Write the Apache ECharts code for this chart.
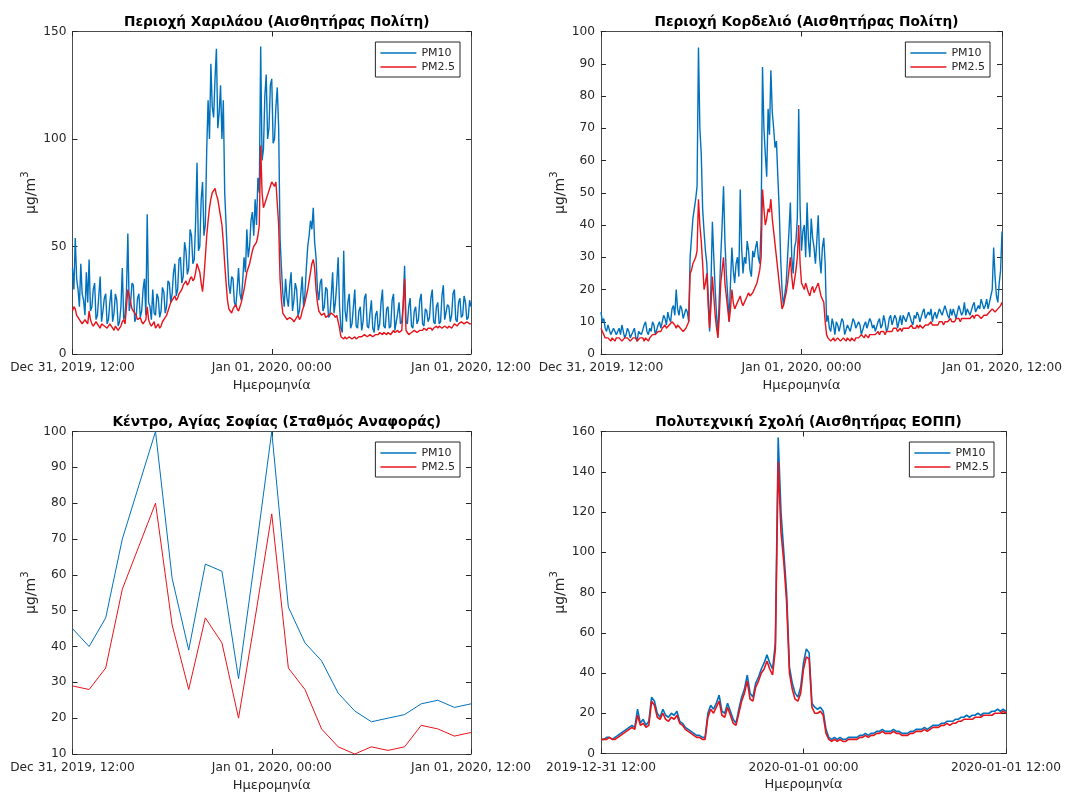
<!DOCTYPE html>
<html>
<head>
<meta charset="utf-8">
<script src="https://cdn.jsdelivr.net/npm/echarts@6/dist/echarts.min.js"></script>
<style>
html,body{margin:0;padding:0;background:#fff;}
#chart{width:1065px;height:793px;}
</style>
</head>
<body>
<div id="chart"></div>
<script>
// ---------- tick labels / titles ----------
const xTickLabels = ['Dec 31, 2019, 12:00', 'Jan 01, 2020, 00:00', 'Jan 01, 2020, 12:00'];
const xTickLabelsISO = ['2019-12-31 12:00', '2020-01-01 00:00', '2020-01-01 12:00'];
const panelTitles = [
  'Περιοχή Χαριλάου (Αισθητήρας Πολίτη)',
  'Περιοχή Κορδελιό (Αισθητήρας Πολίτη)',
  'Κέντρο, Αγίας Σοφίας (Σταθμός Αναφοράς)',
  'Πολυτεχνική Σχολή (Αισθητήρας ΕΟΠΠ)'
];
const seriesNames = ['PM10', 'PM2.5'];
const xAxisName = 'Ημερομηνία';
const yAxisName = '{a|μg/m}{s|3}';

// ---------- data (hours after Dec 31, 2019 12:00) ----------
const stepFiveMin = 1 / 12;  // hours
const stepTenMin = 1 / 6;    // hours
const stepHour = 1;          // hours

// Περιοχή Χαριλάου, 5-minute samples
const p1pm10 = [
  40,30,54,35,30,22,42,28,25,18,38,24,
  44,20,22,30,33,16,18,27,36,15,20,26,
  28,14,16,24,30,15,19,28,25,13,15,22,
  40,16,18,29,56,20,24,33,32,15,17,26,
  28,17,20,30,35,18,65,24,22,16,30,19,
  18,28,26,17,20,31,29,19,22,34,33,24,
  28,38,42,27,30,44,45,33,36,52,48,37,
  40,58,55,42,44,62,89,48,50,72,80,55,
  60,95,118,100,135,115,110,128,142,105,112,125,
  100,118,75,60,45,32,28,36,35,24,22,30,
  40,28,25,34,45,38,58,45,50,62,66,55,
  72,60,82,75,143,90,95,120,130,100,105,125,
  128,98,100,115,124,105,54,40,28,22,35,26,
  22,32,38,20,25,33,30,18,20,28,36,22,
  28,40,50,55,62,58,68,52,45,30,25,33,
  35,20,22,31,30,17,18,27,38,19,24,33,
  45,22,12,10,48,20,15,24,28,12,14,22,
  30,13,12,20,22,11,15,26,28,13,12,19,
  25,12,10,18,20,11,14,24,30,13,12,21,
  22,12,13,25,28,11,11,19,24,14,15,23,
  41,15,14,22,26,13,12,20,22,14,16,25,
  28,14,13,21,20,15,17,26,30,15,14,22,
  24,14,15,27,32,16,16,23,22,15,18,28,
  30,16,15,24,26,17,18,27,24,16,17,25,
  22
];
const p1pm25 = [
  20,22,21,18,17,16,15,14,14,16,15,14,
  20,16,14,13,13,15,15,13,12,14,14,13,
  13,12,12,14,14,12,11,13,13,11,12,13,
  15,16,14,22,30,27,24,21,20,19,18,16,
  16,17,15,14,14,16,22,16,14,13,13,15,
  12,13,14,12,13,15,15,17,18,20,22,24,
  25,26,27,25,26,28,28,30,32,33,34,32,
  33,35,36,34,35,38,42,40,38,33,29,36,
  45,55,62,68,72,75,76,77,74,72,68,64,
  60,52,42,33,25,21,20,19,21,22,23,21,
  20,22,24,27,30,34,38,40,42,45,48,50,
  50,52,55,60,97,75,68,70,72,74,76,78,
  80,79,78,80,80,60,35,25,19,18,17,16,
  16,17,17,16,15,16,17,18,16,17,20,22,
  24,27,30,34,38,42,44,40,30,24,20,19,
  18,18,19,17,17,18,18,19,19,18,17,18,
  18,12,8,8,7,8,7,7,8,8,7,7,
  8,7,7,8,8,8,8,9,9,8,8,9,
  9,8,8,9,9,9,10,10,9,10,10,9,
  10,10,9,10,11,10,10,11,10,10,11,11,
  35,11,10,9,9,10,10,11,11,10,10,11,
  11,11,12,12,11,12,12,12,11,12,12,13,
  12,13,13,12,12,13,13,12,13,13,12,13,
  14,14,13,14,14,15,15,14,14,15,15,14,
  14
];

// Περιοχή Κορδελιό, 5-minute samples
const p2pm10 = [
  13,10,11,8,7,9,9,6,6,8,8,6,
  7,8,6,9,9,5,6,8,7,5,5,7,
  8,5,4,7,7,6,6,9,10,7,6,8,
  7,10,9,6,6,9,10,8,8,12,11,9,
  13,11,10,14,15,12,20,14,12,15,14,11,
  11,14,13,10,30,36,42,45,48,52,95,70,
  62,45,38,32,28,18,7,22,41,30,20,12,
  6,18,30,40,52,35,25,18,10,22,33,26,
  22,28,30,24,51,33,25,30,28,35,32,26,
  24,32,30,33,35,30,28,40,89,70,62,55,
  76,68,88,75,70,64,66,55,45,30,20,15,
  15,22,30,38,47,30,25,33,35,42,76,45,
  32,38,40,30,47,35,30,42,36,33,28,35,
  43,30,25,33,36,28,10,12,8,7,11,9,
  6,10,9,7,7,11,10,6,6,9,8,7,
  7,11,10,8,8,10,9,6,6,9,10,8,
  8,11,10,8,9,7,7,10,11,8,9,12,
  10,7,8,11,12,9,9,12,11,8,10,12,
  9,12,12,10,10,13,13,10,9,12,11,13,
  12,10,10,13,14,11,11,13,12,14,10,12,
  13,11,11,14,14,12,12,15,15,12,11,14,
  12,14,14,11,11,15,15,12,13,16,12,14,
  14,12,12,15,16,13,13,15,14,17,17,14,
  15,17,14,16,16,20,33,24,18,16,22,26,
  38
];
const p2pm25 = [
  8,7,6,5,5,5,5,4,5,5,4,5,
  5,5,5,4,4,5,5,5,5,4,4,5,
  5,5,4,4,5,5,5,4,5,5,4,5,
  5,6,6,6,6,7,7,7,8,8,9,8,
  8,9,9,10,10,9,8,9,9,8,8,7,
  7,8,8,10,25,26,28,29,30,32,48,40,
  35,28,20,22,25,15,8,15,24,18,12,8,
  5,12,22,26,30,22,18,14,10,14,20,16,
  14,15,16,17,18,16,15,16,17,18,19,18,
  18,19,20,21,22,24,26,30,51,45,40,42,
  45,44,48,42,38,34,30,26,22,18,14,15,
  17,19,22,26,30,24,20,23,26,30,40,28,
  22,21,20,22,22,19,18,20,21,19,20,21,
  22,20,18,17,16,10,6,5,5,4,4,5,
  4,4,5,5,4,4,5,5,4,5,5,4,
  5,5,4,5,5,5,5,6,6,5,6,6,
  5,6,6,6,6,6,6,7,6,7,7,7,
  6,7,7,7,7,7,8,8,8,7,7,8,
  7,8,8,8,8,8,8,9,8,8,8,9,
  8,9,9,8,8,9,9,9,9,10,9,9,
  9,9,9,10,10,10,9,10,10,10,10,11,
  10,10,10,11,11,11,10,11,11,11,11,11,
  11,11,11,12,11,12,12,12,12,11,11,12,
  12,12,12,13,13,14,14,13,13,14,14,15,
  16
];

// Κέντρο, Αγίας Σοφίας, hourly samples
const p3pm10 = [45,40,48,70,85,100,59,39,63,61,31,65,100,51,41,36,27,22,19,20,21,24,25,23,24];
const p3pm25 = [29,28,34,56,68,80,46,28,48,41,20,48,77,34,28,17,12,10,12,11,12,18,17,15,16];

// Πολυτεχνική Σχολή, 10-minute samples
const p4pm10 = [
  7,7,8,8,7,8, 9,10,11,12,13,14, 13,22,15,17,14,16, 28,26,20,18,22,19,
  18,20,19,21,16,15, 13,12,11,10,9,9, 8,8,20,24,22,25, 29,21,20,25,21,17,
  15,22,28,32,39,30, 28,35,38,42,45,49, 45,42,55,157,120,100, 80,43,35,30,28,33,
  45,52,50,25,23,22, 23,21,12,8,7,8, 7,8,7,7,8,8, 8,8,9,9,10,9,
  10,10,11,11,12,11, 11,11,12,11,11,10, 10,10,11,11,12,12, 12,13,12,13,14,14,
  14,15,15,16,16,16, 17,17,18,18,19,18, 19,19,20,19,20,20, 20,21,21,22,21,22, 21
];
const p4pm25 = [
  7,7,7,8,7,7, 8,9,10,11,12,13, 12,19,14,15,13,14, 26,24,18,17,20,17,
  16,18,17,19,15,14, 12,11,10,9,8,8, 7,7,18,22,20,23, 26,19,18,23,19,15,
  14,20,26,30,36,27, 26,33,36,40,42,46, 42,39,52,145,110,95, 75,40,32,27,26,30,
  42,48,47,23,20,20, 21,19,10,7,6,7, 6,7,6,6,7,7, 7,7,8,8,9,8,
  9,9,10,10,11,10, 10,10,11,10,10,9, 9,9,10,10,11,11, 11,12,11,12,13,13,
  13,14,14,15,14,15, 15,16,16,17,17,17, 17,18,18,18,19,19, 19,19,20,20,20,21, 20
];

// ---------- styling / layout ----------
const FONT = 'DejaVu Sans';
const AX = '#262626';
const BOX = '#4d4d4d';
const BLUE = '#0072BD';
const RED = '#e8141b';

const panels = [
  {grid:{left:72.5, top:31.5, width:398.5, height:322.5}, y:[0,150,50], ticks:xTickLabels, a:p1pm10, b:p1pm25, step:stepFiveMin, lw:1.4, legend:{right:605, top:42}},
  {grid:{left:601, top:31.5, width:401, height:322.5}, y:[0,100,10], ticks:xTickLabels, a:p2pm10, b:p2pm25, step:stepFiveMin, lw:1.4, legend:{right:75, top:42}},
  {grid:{left:72.5, top:431.5, width:398.5, height:322.5}, y:[10,100,10], ticks:xTickLabels, a:p3pm10, b:p3pm25, step:stepHour, lw:1, legend:{right:605, top:442}},
  {grid:{left:601, top:431.5, width:405, height:322}, y:[0,160,20], ticks:xTickLabelsISO, a:p4pm10, b:p4pm25, step:stepTenMin, lw:1.6, legend:{right:71, top:442}}
];

const option = {animation:false, backgroundColor:'#fff', title:[], grid:[], xAxis:[], yAxis:[], legend:[], series:[]};

panels.forEach((p, i) => {
  const g = p.grid;
  option.grid.push(Object.assign({containLabel:false}, g));
  option.title.push({
    text: panelTitles[i], left: g.left + g.width / 2, top: g.top - 21, textAlign: 'center',
    textStyle: {fontFamily: FONT, fontSize: 13.7, fontWeight: 'bold', color: '#000'}
  });
  const axLine = {show:true, onZero:false, lineStyle:{color:BOX, width:1}};
  const axTick = {show:true, inside:true, length:5, lineStyle:{color:AX, width:1}};
  option.xAxis.push({
    type:'value', gridIndex:i, min:0, max:24, interval:12, position:'bottom',
    axisLine:axLine, axisTick:axTick, splitLine:{show:false},
    axisLabel:{color:AX, fontFamily:FONT, fontSize:12.2, margin:8, showMinLabel:true, showMaxLabel:true,
      formatter: (v) => p.ticks[Math.round(v / 12)]},
    name: xAxisName, nameLocation:'middle', nameGap:25,
    nameTextStyle:{color:AX, fontFamily:FONT, fontSize:13}
  });
  option.xAxis.push({
    type:'value', gridIndex:i, min:0, max:24, interval:12, position:'top',
    axisLine:axLine, axisTick:axTick, axisLabel:{show:false}, splitLine:{show:false}
  });
  option.yAxis.push({
    type:'value', gridIndex:i, min:p.y[0], max:p.y[1], interval:p.y[2], position:'left',
    axisLine:axLine, axisTick:axTick, splitLine:{show:false},
    axisLabel:{color:AX, fontFamily:FONT, fontSize:12.2, margin:6},
    name: yAxisName, nameLocation:'middle', nameRotate:90, nameGap:34,
    nameTextStyle:{color:AX, fontFamily:FONT, fontSize:14,
      rich:{
        a:{color:AX, fontFamily:FONT, fontSize:14, lineHeight:18, verticalAlign:'bottom'},
        s:{color:AX, fontFamily:FONT, fontSize:10, lineHeight:10, verticalAlign:'top'}
      }}
  });
  option.yAxis.push({
    type:'value', gridIndex:i, min:p.y[0], max:p.y[1], interval:p.y[2], position:'right',
    axisLine:axLine, axisTick:axTick, axisLabel:{show:false}, splitLine:{show:false}
  });
  option.legend.push({
    right: p.legend.right, top: p.legend.top, orient:'vertical',
    data: seriesNames, icon:'rect', itemWidth:36, itemHeight:1.5, itemGap:0,
    backgroundColor:'#fff', borderColor:AX, borderWidth:1, borderRadius:0,
    padding:[4,5,3,5], selectedMode:false,
    textStyle:{color:AX, fontFamily:FONT, fontSize:11, lineHeight:14}
  });
  const mk = (arr) => arr.map((v, k) => [k * p.step, v]);
  option.series.push({
    name:seriesNames[0], type:'line', xAxisIndex:2*i, yAxisIndex:2*i, data:mk(p.a),
    showSymbol:false, symbol:'none', color:BLUE, lineStyle:{color:BLUE, width:p.lw}, z:2
  });
  option.series.push({
    name:seriesNames[1], type:'line', xAxisIndex:2*i, yAxisIndex:2*i, data:mk(p.b),
    showSymbol:false, symbol:'none', color:RED, lineStyle:{color:RED, width:p.lw}, z:3
  });
});

const chart = echarts.init(document.getElementById('chart'), null, {renderer:'canvas'});
chart.setOption(option);
</script>
</body>
</html>
